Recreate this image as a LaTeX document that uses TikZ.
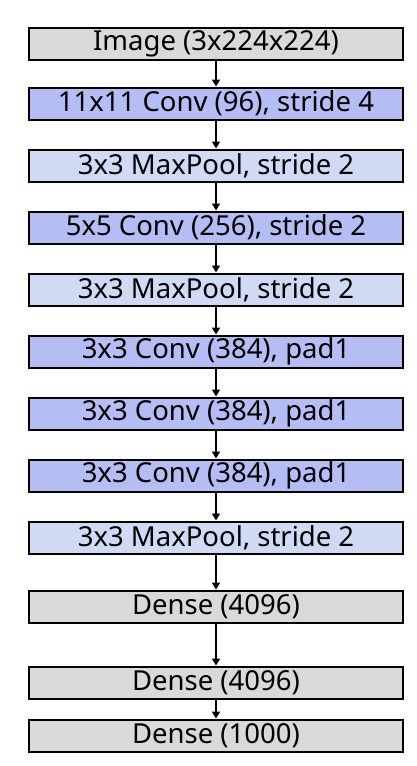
\documentclass[tikz,border=0pt]{standalone}
\usepackage{fontspec}
\setmainfont{Noto Sans}
\usetikzlibrary{positioning}
\usetikzlibrary{arrows.meta}

\definecolor{graybox}{RGB}{217,217,217}
\definecolor{convblue}{RGB}{180,190,245}
\definecolor{poolblue}{RGB}{208,218,245}

\tikzset{
	layer/.style={draw,line width=2pt,minimum width=374pt,minimum height=32pt,
		inner sep=0pt,font=\fontsize{27.5}{27.5}\selectfont},
	inbox/.style={layer,fill=graybox},
	convbox/.style={layer,fill=convblue},
	poolbox/.style={layer,fill=poolblue},
	densebox/.style={layer,fill=graybox}
}

\begin{document}
\begin{tikzpicture}[line width=1.8pt,>={Triangle[width=8pt,length=7pt]}]
	\useasboundingbox (0,0) rectangle (416pt,-766pt);
	
	\node [inbox] (img) at (216pt,-43.5pt) {Image (3x224x224)};
	\node [convbox,below=26pt of img] (conv1) {11x11 Conv (96), stride 4};
	\node [poolbox,below=28pt of conv1] (pool1) {3x3 MaxPool, stride 2};
	\node [convbox,below=28pt of pool1] (conv2) {5x5 Conv (256), stride 2};
	\node [poolbox,below=28pt of conv2] (pool2) {3x3 MaxPool, stride 2};
	\node [convbox,below=28pt of pool2] (conv3) {3x3 Conv (384), pad1};
	\node [convbox,below=28pt of conv3] (conv4) {3x3 Conv (384), pad1};
	\node [convbox,below=28pt of conv4] (conv5) {3x3 Conv (384), pad1};
	\node [poolbox,below=28pt of conv5] (pool3) {3x3 MaxPool, stride 2};
	\node [densebox,below=35pt of pool3] (fc1) {Dense (4096)};
	\node [densebox,below=42pt of fc1] (fc2) {Dense (4096)};
	\node [densebox,below=19pt of fc2] (fc3) {Dense (1000)};
	
	% arrows between layers
	\draw [->] (img) -- (conv1);
	\draw [->] (conv1) -- (pool1);
	\draw [->] (pool1) -- (conv2);
	\draw [->] (conv2) -- (pool2);
	\draw [->] (pool2) -- (conv3);
	\draw [->] (conv3) -- (conv4);
	\draw [->] (conv4) -- (conv5);
	\draw [->] (conv5) -- (pool3);
	\draw [->] (pool3) -- (fc1);
	\draw [->] (fc1) -- (fc2);
	\draw [->] (fc2) -- (fc3);
\end{tikzpicture}
\end{document}
